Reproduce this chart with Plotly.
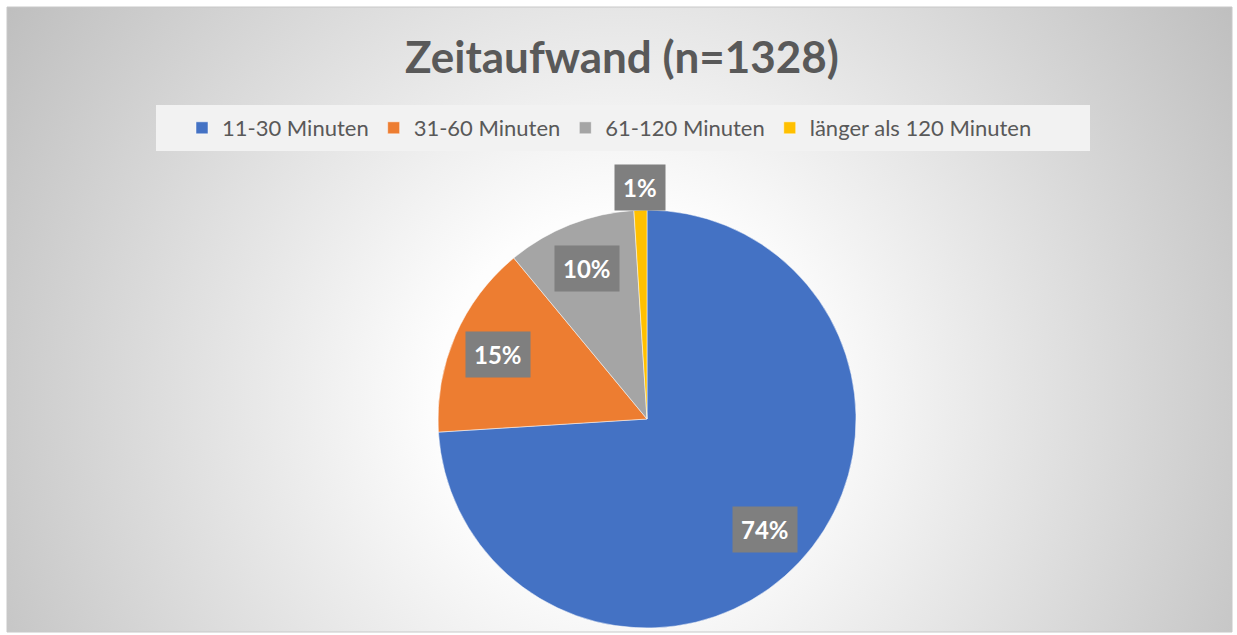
import base64
import math
import plotly.graph_objects as go

# data ------------------------------------------------------------------
labels = ["11-30 Minuten", "31-60 Minuten", "61-120 Minuten", "länger als 120 Minuten"]
values = [74, 15, 10, 1]
colors = ["#4472C4", "#ED7D31", "#A5A5A5", "#FFC000"]
title_text = "Zeitaufwand (n=1328)"

W, H = 1237, 635
FONT = "Lato"

# pie geometry (pixels)
cx, cy, R = 647, 419, 209

# radial gradient background as an svg image
svg = f"""<svg xmlns='http://www.w3.org/2000/svg' width='1225' height='625' viewBox='0 0 1225 625' preserveAspectRatio='none'>
<defs><radialGradient id='g' gradientUnits='userSpaceOnUse' cx='615' cy='390' r='740'>
<stop offset='0' stop-color='#ffffff'/><stop offset='0.25' stop-color='#fdfdfd'/>
<stop offset='1' stop-color='#bdbdbd'/></radialGradient></defs>
<rect width='1225' height='625' fill='url(#g)'/></svg>"""
svg_uri = "data:image/svg+xml;base64," + base64.b64encode(svg.encode()).decode()

fig = go.Figure()
fig.add_trace(go.Pie(
    labels=labels,
    values=values,
    marker=dict(colors=colors, line=dict(color="white", width=0.5)),
    sort=False,
    direction="clockwise",
    rotation=0,
    textinfo="none",
    hoverinfo="label+percent",
    domain=dict(x=[(cx - R) / W, (cx + R) / W],
                y=[1 - (cy + R) / H, 1 - (cy - R) / H]),
))

# percentage labels in grey boxes, placed at slice mid-angles
total = sum(values)
cum = 0
for v in values:
    share = v / total
    mid = (cum + share / 2) * 2 * math.pi
    cum += share
    r = R * (1.11 if share < 0.05 else 0.775)
    px_ = cx + r * math.sin(mid)
    py_ = cy - r * math.cos(mid)
    fig.add_annotation(
        x=px_ / W, y=1 - py_ / H, xref="paper", yref="paper",
        text=f"<b>{round(share * 100)}%</b>", showarrow=False,
        font=dict(family=FONT, size=24, color="white"),
        bgcolor="#7f7f7f", borderpad=8,
        xanchor="center", yanchor="middle")

# legend background box
fig.add_shape(type="rect", xref="paper", yref="paper",
              x0=156 / W, x1=1090 / W, y0=1 - 151 / H, y1=1 - 105 / H,
              fillcolor="#f2f2f2", line_width=0, layer="below")

fig.add_layout_image(dict(
    source=svg_uri, xref="paper", yref="paper",
    x=7 / W, y=1 - 7 / H, sizex=1225 / W, sizey=625 / H,
    sizing="stretch", xanchor="left", yanchor="top", layer="below"))

# chart border
fig.add_shape(type="rect", xref="paper", yref="paper",
              x0=7 / W, x1=1232 / W, y0=1 - 632 / H, y1=1 - 7 / H,
              line=dict(color="#c8c8c8", width=1), layer="above")

fig.update_layout(
    width=W, height=H,
    margin=dict(l=0, r=0, t=0, b=0),
    paper_bgcolor="white",
    title=dict(text=f"<b>{title_text}</b>", x=622 / W, y=1 - 58 / H,
               xanchor="center", yanchor="middle",
               font=dict(family=FONT, size=44, color="#595959")),
    legend=dict(orientation="h", x=182 / W, y=1 - 128 / H,
                xanchor="left", yanchor="middle",
                font=dict(family=FONT, size=22, color="#595959"),
                bgcolor="rgba(0,0,0,0)"),
    showlegend=True,
)

fig.write_html("out.html", config={"displayModeBar": False},
               post_script="document.body.style.margin='0';")
